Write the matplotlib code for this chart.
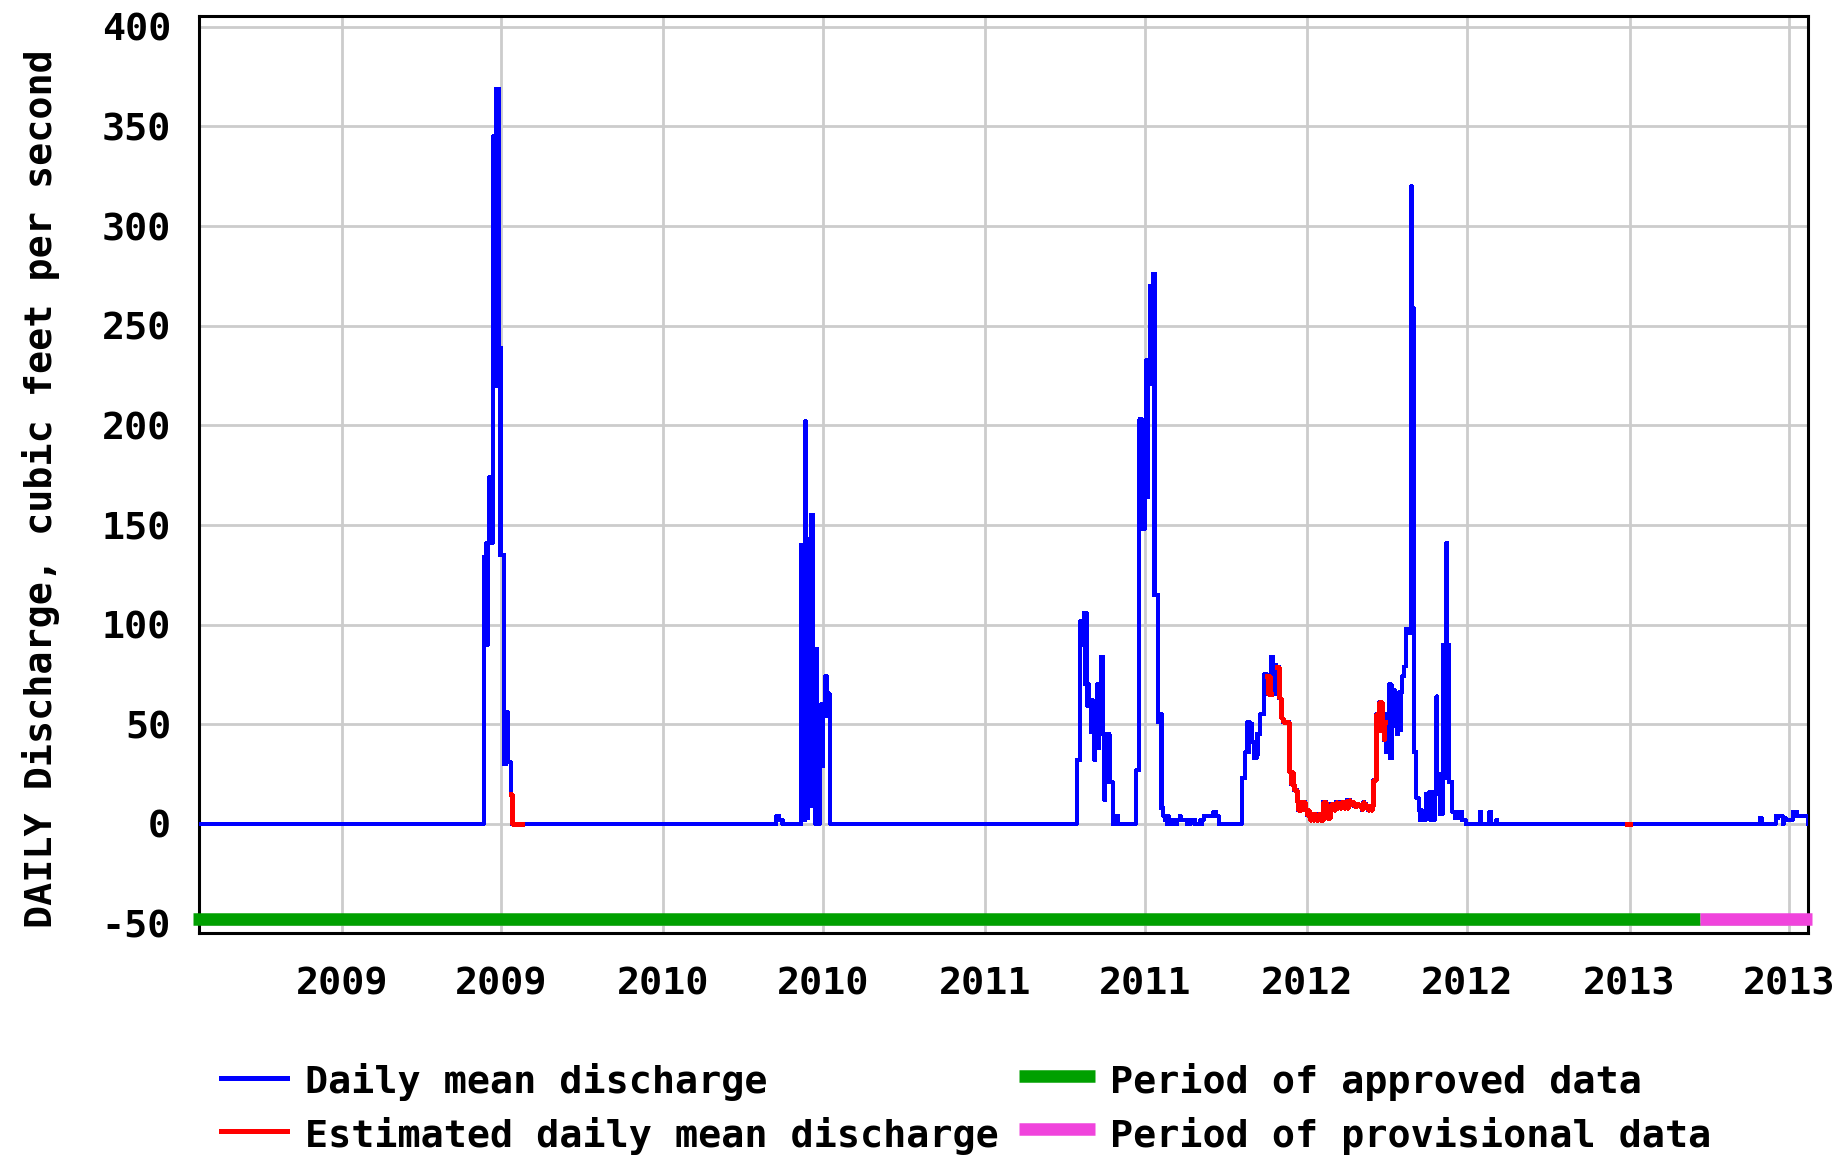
import matplotlib
matplotlib.use('Agg')
import matplotlib.pyplot as plt
import matplotlib.dates as mdates
from matplotlib.lines import Line2D
import pandas as pd

# Period shown on the graph
period_start = '2008-07-23'
period_end = '2013-07-23'

# Daily mean discharge (cfs) for each flow event.
# Days not covered by an event are zero flow.
flow_2009 = [134, 90, 134, 141, 90, 141, 174, 141, 174, 141, 175, 345, 220, 345, 369, 220,
             369, 239, 135, 239, 135, 135, 135, 30, 30, 56, 31, 56, 31, 31, 31, 15]
blip_2010 = [4, 4, 4, 2, 2, 2, 2]
flow_2010 = [140, 140, 140, 140, 2, 202, 143, 3, 143, 9, 143, 155, 9, 155, 9, 88, 0, 88, 0,
             29, 0, 29, 29, 60, 29, 60, 60, 74, 54, 74, 66, 65, 65]
flow_2011 = [32, 32, 32, 32, 102, 102, 90, 102, 106, 70, 106, 70, 59, 70, 59, 62, 46, 62, 46,
             55, 32, 55, 38, 70, 38, 70, 46, 84, 46, 84, 45, 12, 45, 21, 45, 21, 45, 21, 21, 21,
             21, 0, 0, 0, 0, 4, 4, 0, 0, 0, 0, 0, 0, 0, 0, 0, 0, 0, 0, 0, 0, 0, 0, 0, 0, 0, 0,
             27, 27, 27, 27, 203, 148, 203, 148, 201, 148, 201, 164, 233, 164, 233, 221, 270, 221,
             270, 276, 115, 276, 115, 115, 115, 51, 51, 55, 8, 55, 8, 4, 4, 2, 2, 0]
low_2011 = [4, 0, 2, 2, 0, 2, 0, 0, 0, 2, 0, 2, 2, 2, 4, 2, 2, 2, 2, 2, 2, 2, 0, 2, 0, 0, 2,
            2, 2, 2, 2, 0, 0, 0, 0, 0, 0, 2, 0, 2, 2, 4, 4, 4, 4, 4, 4, 4, 4, 4, 4, 4, 6, 6, 6,
            4, 4, 4]
flow_2012 = [23, 23, 23, 23, 36, 36, 51, 36, 51, 50, 41, 50, 41, 41, 33, 41, 33, 45, 35, 45, 45,
             55, 55, 55, 55, 75, 75, 75, 75, 74, 65, 74, 65, 84, 72, 84, 80, 65, 80, 65, 79, 79,
             63, 63, 63, 53, 53, 51, 51, 51, 51, 51, 51, 51, 26, 26, 20, 26, 20, 17, 17, 17, 17,
             11, 7, 11, 7, 11, 11, 7, 11, 11, 7, 7, 4.5, 7, 4.5,
             5, 2, 5, 5, 2, 5, 5, 2, 5, 2, 5, 5, 2, 5, 2, 11, 11, 7, 11, 7, 3, 7, 3, 7,
             10, 7, 10, 10, 7, 10, 11, 8, 10, 10, 11, 8, 11, 10, 11, 8, 10, 11, 12, 8,
             11, 12, 10, 11, 10, 11, 9, 10, 10, 9, 10, 10, 9, 9, 9, 7, 10, 11, 9, 10, 8,
             9, 7, 9, 7, 9, 7, 9, 22, 22, 22, 55, 47, 55, 47, 61, 47, 61, 47, 51, 42, 51,
             55, 36, 55, 36, 70, 33, 70, 33, 67, 49, 67, 49, 58, 45, 58, 66, 66, 47, 66, 74,
             74, 79, 79, 98, 98, 98, 96, 96, 96, 320, 259, 259, 36, 36, 36,
             13, 13, 13, 7, 2, 7, 2, 2, 2, 2, 2, 15, 3, 15, 3, 16, 2, 16, 2, 15, 2, 15, 15,
             64, 15, 15, 25, 5, 25, 5, 90, 23, 90, 25, 141, 23, 90, 21, 21, 21, 21, 6, 6, 6,
             3, 3, 3, 6, 3, 6, 6, 6, 2, 2, 2, 2]
blips_2012 = [6, 6, 0, 0, 0, 0, 0, 0, 0, 0, 0, 6, 6, 0, 0, 0, 0, 0, 0, 2]
blip_2013 = [3, 3]
tail_2013 = [4, 4, 3, 4, 4, 4, 4, 4, 0, 3, 3, 2, 2, 2, 2, 2, 2, 2, 2, 6, 6, 6, 6, 6,
             4, 4, 4, 4, 4, 4, 4, 4, 4, 4, 4, 4, 4]

event_starts = ['2009-06-11', '2010-05-09', '2010-06-06', '2011-04-15', '2011-07-27',
                '2011-10-19', '2012-07-15', '2013-05-29', '2013-06-16']
event_values = [flow_2009, blip_2010, flow_2010, flow_2011, low_2011,
                flow_2012, blips_2012, blip_2013, tail_2013]

# Days flagged as estimated (drawn in red)
est_starts = ['2009-07-12', '2011-11-17', '2011-11-28', '2012-12-29']
est_ends = ['2009-07-24', '2011-11-20', '2012-03-29', '2012-12-31']

# Approval status bar
approved_span = ['2008-07-16', '2013-03-22']
provisional_span = ['2013-03-22', '2013-07-27']

x_ticks = ['2009-01-01', '2009-07-01', '2010-01-01', '2010-07-01', '2011-01-01',
           '2011-07-01', '2012-01-01', '2012-07-01', '2013-01-01', '2013-07-01']
y_ticks = [-50, 0, 50, 100, 150, 200, 250, 300, 350, 400]

BLUE = '#0000ff'
RED = '#ff0000'
GREEN = '#00a000'
PINK = '#f044dc'

plt.rcParams['font.family'] = ['DejaVu Sans Mono']
plt.rcParams['font.weight'] = 'bold'
plt.rcParams['font.size'] = 27.6
plt.rcParams['axes.unicode_minus'] = False

W, H = 1845, 1161
fig = plt.figure(figsize=(W / 100, H / 100), dpi=100)
ax = fig.add_axes([199 / W, 1 - 933 / H, (1808 - 199) / W, (933 - 16) / H])

# Build the daily series
days = pd.date_range(period_start, period_end, freq='D')
flow = pd.Series(0.0, index=days)
for start, vals in zip(event_starts, event_values):
    idx = pd.date_range(start, periods=len(vals), freq='D')
    flow.loc[idx] = vals

ax.step(flow.index.to_pydatetime(), flow.values, where='post', color=BLUE, lw=2.2,
        antialiased=False, zorder=3)

for s, e in zip(est_starts, est_ends):
    seg = flow.loc[s:e]
    xs = list(seg.index.to_pydatetime()) + [(seg.index[-1] + pd.Timedelta(days=1)).to_pydatetime()]
    ys = list(seg.values) + [seg.values[-1]]
    ax.step(xs, ys, where='post', color=RED, lw=2.2, antialiased=False, zorder=4)

bar_y = -47.7
ax.plot(pd.to_datetime(approved_span).to_pydatetime(), [bar_y, bar_y], color=GREEN, lw=9,
        solid_capstyle='butt', clip_on=False, zorder=5)
ax.plot(pd.to_datetime(provisional_span).to_pydatetime(), [bar_y, bar_y], color=PINK, lw=9,
        solid_capstyle='butt', clip_on=False, zorder=5)

ax.set_xlim(pd.Timestamp(period_start).to_pydatetime(), pd.Timestamp('2013-07-22 12:00').to_pydatetime())
ax.set_ylim(-54.7, 405.4)
ax.set_xticks(pd.to_datetime(x_ticks).to_pydatetime())
ax.xaxis.set_major_formatter(mdates.DateFormatter('%Y'))
ax.set_yticks(y_ticks)
ax.tick_params(axis='both', length=0)
ax.tick_params(axis='x', pad=24)
ax.tick_params(axis='y', pad=20)

ax.grid(True, color='#cccccc', lw=2)
ax.set_axisbelow(True)
for sp in ax.spines.values():
    sp.set_linewidth(2.2)
    sp.set_color('black')

fig.text(41 / W, 1 - 489 / H, 'DAILY Discharge, cubic feet per second', rotation=90,
         ha='center', va='center')

# Legend drawn under the plot
legend_rows = [
    (1078, 1093, BLUE, 'Daily mean discharge', GREEN, 'Period of approved data'),
    (1131, 1147, RED, 'Estimated daily mean discharge', PINK, 'Period of provisional data'),
]
for y_line, y_base, c_line, label_line, c_bar, label_bar in legend_rows:
    fig.add_artist(Line2D([221 / W, 287 / W], [1 - y_line / H] * 2, color=c_line, lw=2.2,
                          antialiased=False, transform=fig.transFigure))
    fig.text(305 / W, 1 - y_base / H, label_line, ha='left', va='baseline')
    fig.add_artist(Line2D([1019 / W, 1095 / W], [1 - (y_line - 2) / H] * 2, color=c_bar, lw=9,
                          solid_capstyle='butt', transform=fig.transFigure))
    fig.text(1110 / W, 1 - y_base / H, label_bar, ha='left', va='baseline')

fig.savefig('out.png', dpi=100)
